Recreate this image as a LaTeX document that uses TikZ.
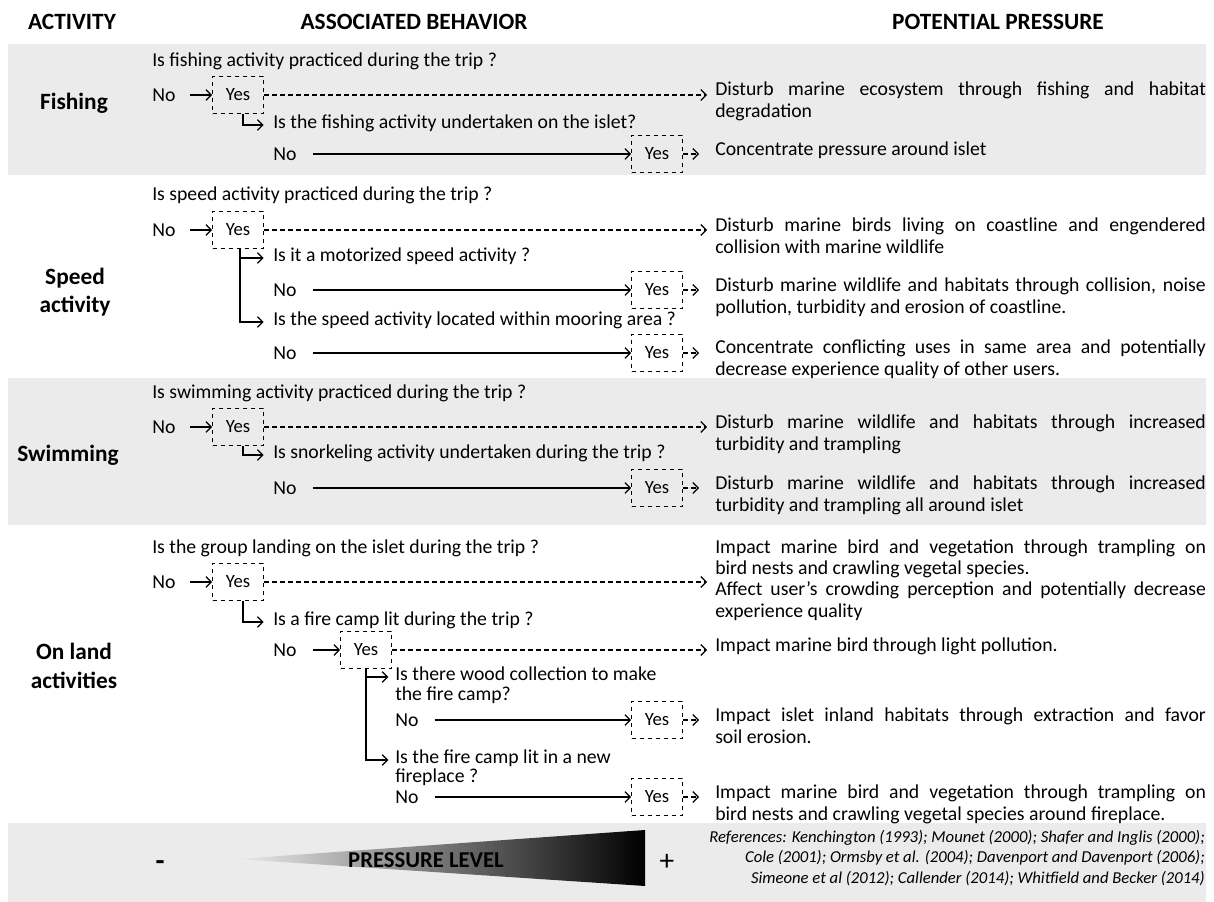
\documentclass[tikz,border=0pt]{standalone}
\usepackage{fontspec}
\setmainfont{Carlito}
\usetikzlibrary{arrows.meta}
\hyphenpenalty=10000
\exhyphenpenalty=10000
\begin{document}
\begin{tikzpicture}[x=0.75pt,y=-0.75pt,
  every node/.style={inner sep=0pt},
  txt/.style={anchor=mid west, font=\fontsize{14.8}{16}\selectfont},
  notxt/.style={anchor=west, font=\fontsize{14.8}{16}\selectfont},
  yesbox/.style={draw, dash pattern=on 3.5pt off 2.5pt, line width=0.8pt, minimum width=38pt, minimum height=28pt, font=\fontsize{14}{16}\selectfont},
  pr/.style={anchor=north west, text width=368pt, align=justify, font=\fontsize{14.8}{16}\selectfont},
  act/.style={font=\fontsize{17.5}{21.5}\selectfont\bfseries, align=center},
  hdr/.style={font=\fontsize{17.5}{20}\selectfont\bfseries},
  arr/.style={-{Straight Barb[length=4pt,width=8pt]}, line width=0.9pt},
  darr/.style={arr, dash pattern=on 3.5pt off 2.5pt},
  bandfill/.style={fill=black!8}
]
\useasboundingbox (0,0) rectangle (1214,902);
% bands
\fill[bandfill] (8,44) rectangle (1206,175);
\fill[bandfill] (8,378) rectangle (1206,525);
\fill[bandfill] (8,823) rectangle (1206,902);

% headers
\node[hdr] (h1) at (72,22) {ACTIVITY};
\node[hdr] (h2) at (414,22) {ASSOCIATED BEHAVIOR};
\node[hdr] (h3) at (998,22) {POTENTIAL PRESSURE};

% ---------------- Fishing
\node[act] (fA) at (74,103) {Fishing};
\node[txt] (fq1) at (152,63) {Is fishing activity practiced during the trip ?};
\node[notxt] (fn1) at (152,95) {No};
\node[yesbox] (fb1) at (238,95) {Yes};
\node[txt] (fq2) at (273,125) {Is the fishing activity undertaken on the islet?};
\node[notxt] (fn2) at (273,154) {No};
\node[yesbox] (fb2) at (657,154) {Yes};
\node[pr] (fp1) at (715,82) {Disturb marine ecosystem through fishing and habitat\linebreak degradation};
\node[pr] (fp2) at (715,142) {Concentrate pressure around islet};
\draw[arr, shorten <=11pt] (fn1.east |- fb1.west) -- (fb1.west);
\draw[darr, shorten >=6pt] (fb1.east) -- (fb1.east -| fp1.west);
\draw[arr, shorten >=7pt] ([xshift=3.75pt]fb1.south) |- (fq2.mid west);
\draw[arr, shorten <=12pt] (fn2.east |- fb2.west) -- (fb2.west);
\draw[darr, shorten >=12pt] (fb2.east) -- (fb2.east -| fp2.west);

% ---------------- Speed activity
\node[act] (sA) at (75,292) {Speed\\activity};
\node[txt] (sq1) at (152,197) {Is speed activity practiced during the trip ?};
\node[notxt] (sn1) at (152,230) {No};
\node[yesbox] (sb1) at (238,230) {Yes};
\node[txt] (sq2) at (273,258) {Is it a motorized speed activity ?};
\node[notxt] (sn2) at (273,290) {No};
\node[yesbox] (sb2) at (657,290) {Yes};
\node[txt] (sq3) at (273,322) {Is the speed activity located within mooring area ?};
\node[notxt] (sn3) at (273,353) {No};
\node[yesbox] (sb3) at (657,353) {Yes};
\node[pr] (sp1) at (715,218) {Disturb marine birds living on coastline and engendered\linebreak collision with marine wildlife};
\node[pr] (sp2) at (715,278) {Disturb marine wildlife and habitats through collision, noise\linebreak pollution, turbidity and erosion of coastline.};
\node[pr] (sp3) at (715,340) {Concentrate conflicting uses in same area and potentially\linebreak decrease experience quality of other users.};
\draw[arr, shorten <=11pt] (sn1.east |- sb1.west) -- (sb1.west);
\draw[darr, shorten >=6pt] (sb1.east) -- (sb1.east -| sp1.west);
\draw[arr, shorten >=7pt] ([xshift=1.5pt]sb1.south) |- (sq2.mid west);
\draw[arr, shorten >=7pt] ([xshift=1.5pt]sb1.south) |- (sq3.mid west);
\draw[arr, shorten <=12pt] (sn2.east |- sb2.west) -- (sb2.west);
\draw[darr, shorten >=12pt] (sb2.east) -- (sb2.east -| sp2.west);
\draw[arr, shorten <=12pt] (sn3.east |- sb3.west) -- (sb3.west);
\draw[darr, shorten >=12pt] (sb3.east) -- (sb3.east -| sp3.west);

% ---------------- Swimming
\node[act] (wA) at (68,455) {Swimming};
\node[txt] (wq1) at (152,395) {Is swimming activity practiced during the trip ?};
\node[notxt] (wn1) at (152,427) {No};
\node[yesbox] (wb1) at (238,427) {Yes};
\node[txt] (wq2) at (273,455) {Is snorkeling activity undertaken during the trip ?};
\node[notxt] (wn2) at (273,488) {No};
\node[yesbox] (wb2) at (657,488) {Yes};
\node[pr] (wp1) at (715,415) {Disturb marine wildlife and habitats through increased\linebreak turbidity and trampling};
\node[pr] (wp2) at (715,476) {Disturb marine wildlife and habitats through increased\linebreak turbidity and trampling all around islet};
\draw[arr, shorten <=11pt] (wn1.east |- wb1.west) -- (wb1.west);
\draw[darr, shorten >=6pt] (wb1.east) -- (wb1.east -| wp1.west);
\draw[arr, shorten >=7pt] ([xshift=3.75pt]wb1.south) |- (wq2.mid west);
\draw[arr, shorten <=12pt] (wn2.east |- wb2.west) -- (wb2.west);
\draw[darr, shorten >=12pt] (wb2.east) -- (wb2.east -| wp2.west);

% ---------------- On land activities
\node[act] (lA) at (74,666) {On land\\activities};
\node[txt] (lq1) at (152,550) {Is the group landing on the islet during the trip ?};
\node[notxt] (ln1) at (152,582) {No};
\node[yesbox] (lb1) at (238,582) {Yes};
\node[txt] (lq2) at (273,622) {Is a fire camp lit during the trip ?};
\node[notxt] (ln2) at (273,650) {No};
\node[yesbox] (lb2) at (366,650) {Yes};
\node[txt] (lq3a) at (395,677) {Is there wood collection to make};
\node[txt] (lq3b) at (395,697) {the fire camp?};
\node[notxt] (ln3) at (395,720) {No};
\node[yesbox] (lb3) at (657,720) {Yes};
\node[txt] (lq4a) at (395,760) {Is the fire camp lit in a new};
\node[txt] (lq4b) at (395,779) {fireplace ?};
\node[notxt] (ln4) at (395,797) {No};
\node[yesbox] (lb4) at (657,797) {Yes};
\node[pr, anchor=west] (lp1) at (715,580) {Impact marine bird and vegetation through trampling on\linebreak bird nests and crawling vegetal species.\newline Affect user’s crowding perception and potentially decrease\linebreak experience quality};
\node[pr] (lp2) at (715,638) {Impact marine bird through light pollution.};
\node[pr] (lp3) at (715,708) {Impact islet inland habitats through extraction and favor\linebreak soil erosion.};
\node[pr] (lp4) at (715,785) {Impact marine bird and vegetation through trampling on\linebreak bird nests and crawling vegetal species around fireplace.};
\draw[arr, shorten <=11pt] (ln1.east |- lb1.west) -- (lb1.west);
\draw[darr, shorten >=6pt] (lb1.east) -- (lb1.east -| lp1.west);
\draw[arr, shorten >=7pt] ([xshift=3.75pt]lb1.south) |- (lq2.mid west);
\draw[arr, shorten <=12pt] (ln2.east |- lb2.west) -- (lb2.west);
\draw[darr, shorten >=6pt] (lb2.east) -- (lb2.east -| lp2.west);
\draw[arr, shorten >=5pt] (lb2.south) |- (lq3a.mid west);
\draw[arr, shorten >=5pt] (lb2.south) |- (lq4a.mid west);
\draw[arr, shorten <=12pt] (ln3.east |- lb3.west) -- (lb3.west);
\draw[darr, shorten >=12pt] (lb3.east) -- (lb3.east -| lp3.west);
\draw[arr, shorten <=12pt] (ln4.east |- lb4.west) -- (lb4.west);
\draw[darr, shorten >=12pt] (lb4.east) -- (lb4.east -| lp4.west);

% ---------------- Pressure level scale
\shade[left color=black!8, middle color=black!42, right color=black] (237,859) -- (645,830) -- (645,886) -- cycle;
\node[font=\fontsize{17}{19}\selectfont\bfseries] (pl) at (426,860) {PRESSURE LEVEL};
\node[font=\fontsize{22}{24}\selectfont\bfseries] (mn) at (160,866) {-};
\node[font=\fontsize{22}{24}\selectfont] (pp) at (667,862) {+};
\node[anchor=east, align=right, font=\fontsize{12.5}{15.5}\selectfont\itshape] (refs) at (1205,858) {References: Kenchington (1993); Mounet (2000); Shafer and Inglis (2000);\\ Cole (2001); Ormsby et al. (2004); Davenport and Davenport (2006);\\ Simeone et al (2012); Callender (2014); Whitfield and Becker (2014)};
\end{tikzpicture}
\end{document}
